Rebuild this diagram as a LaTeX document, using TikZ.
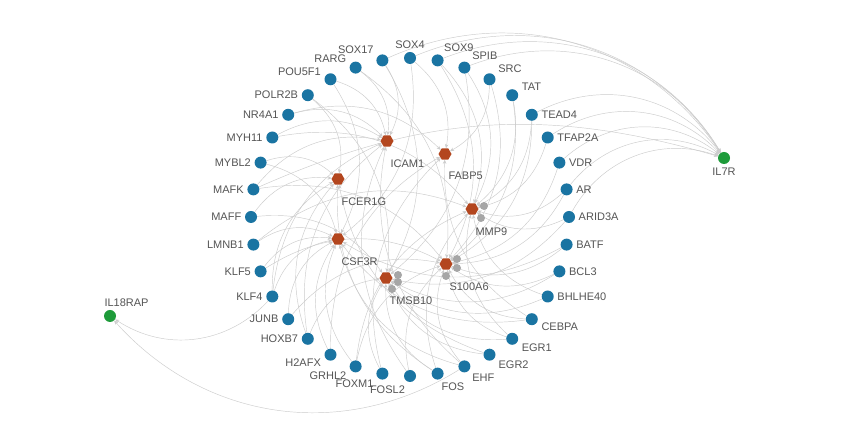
\documentclass[tikz,border=0pt]{standalone}
\usepackage{fontspec}
\setmainfont{Liberation Sans}
\usetikzlibrary{shapes.geometric}
\usetikzlibrary{arrows.meta}
\usetikzlibrary{backgrounds}

\definecolor{tfblue}{HTML}{1A74A2}
\definecolor{hubred}{HTML}{B3461E}
\definecolor{recgreen}{HTML}{1E9B3A}
\definecolor{txtgrey}{HTML}{555555}

\begin{document}
\begin{tikzpicture} [
    x=1pt, y=1pt,
    tf/.style = {circle, fill=tfblue, minimum size=12pt, inner sep=0pt, label distance=1pt},
    hub/.style = {regular polygon, regular polygon sides=6, fill=hubred, minimum size=13pt, inner sep=0pt},
    receptor/.style = {circle, fill=recgreen, minimum size=12pt, inner sep=0pt},
    dot/.style = {circle, fill=black!35, minimum size=8pt, inner sep=0pt},
    wire/.style = {draw=black!20, line width=0.45pt, -{Stealth[length=4pt,width=3.5pt]}},
    hublabel/.style = {anchor=north west, label distance=9pt},
    every label/.style = {font=\fontsize{11}{13}\selectfont, text=txtgrey}
    ]
    \useasboundingbox (0,0) rectangle (864,433);

    % transcription factors on the ring
    \begin{scope}[shift={(410,216)}]
      \foreach \n/\p [count=\i from 0] in {AR/0, ARID3A/0, BATF/0, BCL3/0, BHLHE40/0, CEBPA/-5,
          EGR1/-10, EGR2/-25, EHF/-45, FOS/-85, FOSL2/-105, FOXM1/-150, GRHL2/-160, H2AFX/-170,
          HOXB7/180, JUNB/180, KLF4/180, KLF5/180, LMNB1/180, MAFF/180, MAFK/180, MYBL2/180,
          MYH11/180, NR4A1/180, POLR2B/180, POU5F1/175, RARG/165, SOX17/150, SOX4/90, SOX9/60,
          SPIB/45, SRC/30, TAT/10, TEAD4/0, TFAP2A/0, VDR/0}
        \node[tf, label={\p:\n}] (\n) at ({10-10*\i}:159) {};
    \end{scope}

    % target genes
    \node[hub, label={[hublabel]below:ICAM1}] (ICAM1) at (387,292) {};
    \node[hub, label={[hublabel]below:FABP5}] (FABP5) at (445,279) {};
    \node[hub, label={[hublabel]below:FCER1G}] (FCER1G) at (338,254) {};
    \node[hub, label={[hublabel]below:MMP9}] (MMP9) at (472,224) {};
    \node[hub, label={[hublabel]below:CSF3R}] (CSF3R) at (338,194) {};
    \node[hub, label={[hublabel]below:S100A6}] (S100A6) at (446,169) {};
    \node[hub, label={[hublabel]below:TMSB10}] (TMSB10) at (386,155) {};

    \node[dot] (mmpa) at (484,227) {};
    \node[dot] (mmpb) at (481,215) {};
    \node[dot] (s100a) at (457,174) {};
    \node[dot] (s100b) at (457,165) {};
    \node[dot] (s100c) at (446,157) {};
    \node[dot] (tmsba) at (398,158) {};
    \node[dot] (tmsbb) at (398,151) {};
    \node[dot] (tmsbc) at (392,144) {};

    % receptors
    \node[receptor, label=below:IL7R] (IL7R) at (724,275) {};
    \node[receptor, label={[anchor=south west, xshift=-9pt, label distance=0pt]above:IL18RAP}] (IL18RAP) at (110,117) {};

    \begin{scope}[on background layer]
      \fill[white] (0,0) rectangle (864,433);
      \foreach \s/\t in {AR/MMP9, AR/S100A6, ARID3A/MMP9, ARID3A/TMSB10, BATF/S100A6, BATF/CSF3R,
          BCL3/S100A6, BCL3/TMSB10, BHLHE40/MMP9, BHLHE40/TMSB10, CEBPA/S100A6, CEBPA/CSF3R,
          CEBPA/FABP5, EGR1/S100A6, EGR1/TMSB10, EGR1/MMP9, EGR2/TMSB10, EGR2/FCER1G,
          EHF/S100A6, EHF/CSF3R, EHF/ICAM1, FOS/TMSB10, FOS/MMP9, FOS/FCER1G, FOSL2/S100A6,
          FOSL2/ICAM1, FOXM1/TMSB10, FOXM1/FABP5, GRHL2/CSF3R, GRHL2/MMP9, GRHL2/S100A6,
          H2AFX/CSF3R, H2AFX/FABP5, HOXB7/FCER1G, HOXB7/ICAM1, HOXB7/TMSB10, JUNB/CSF3R,
          JUNB/S100A6, KLF4/CSF3R, KLF4/FCER1G, KLF4/ICAM1, KLF5/CSF3R, KLF5/S100A6,
          LMNB1/CSF3R, LMNB1/MMP9, MAFF/FCER1G, MAFF/TMSB10, MAFK/ICAM1, MAFK/S100A6,
          MYBL2/FCER1G, MYBL2/CSF3R, MYH11/ICAM1, MYH11/MMP9, NR4A1/ICAM1, NR4A1/FABP5,
          POLR2B/FCER1G, POLR2B/TMSB10, POU5F1/ICAM1, POU5F1/CSF3R, RARG/ICAM1, RARG/S100A6,
          SOX17/ICAM1, SOX17/TMSB10, SOX4/FABP5, SOX4/CSF3R, SOX9/MMP9, SOX9/S100A6,
          SPIB/MMP9, SPIB/TMSB10, SRC/S100A6, SRC/FABP5, TAT/MMP9, TAT/S100A6, TEAD4/MMP9,
          TEAD4/S100A6, TFAP2A/MMP9, VDR/S100A6}
        \draw[wire] (\s) to[bend left=30] (\t);
      \foreach \s/\t in {SOX17/IL7R, SOX4/IL7R, SOX9/IL7R, SPIB/IL7R, TEAD4/IL7R, TFAP2A/IL7R,
          VDR/IL7R, AR/IL7R, ARID3A/IL7R, KLF4/IL18RAP, EHF/IL18RAP}
        \draw[wire] (\s) to[bend left=40] (\t);
      \draw[wire] (MAFK) to[bend left=20] (IL7R);
    \end{scope}
  \end{tikzpicture}
\end{document}
